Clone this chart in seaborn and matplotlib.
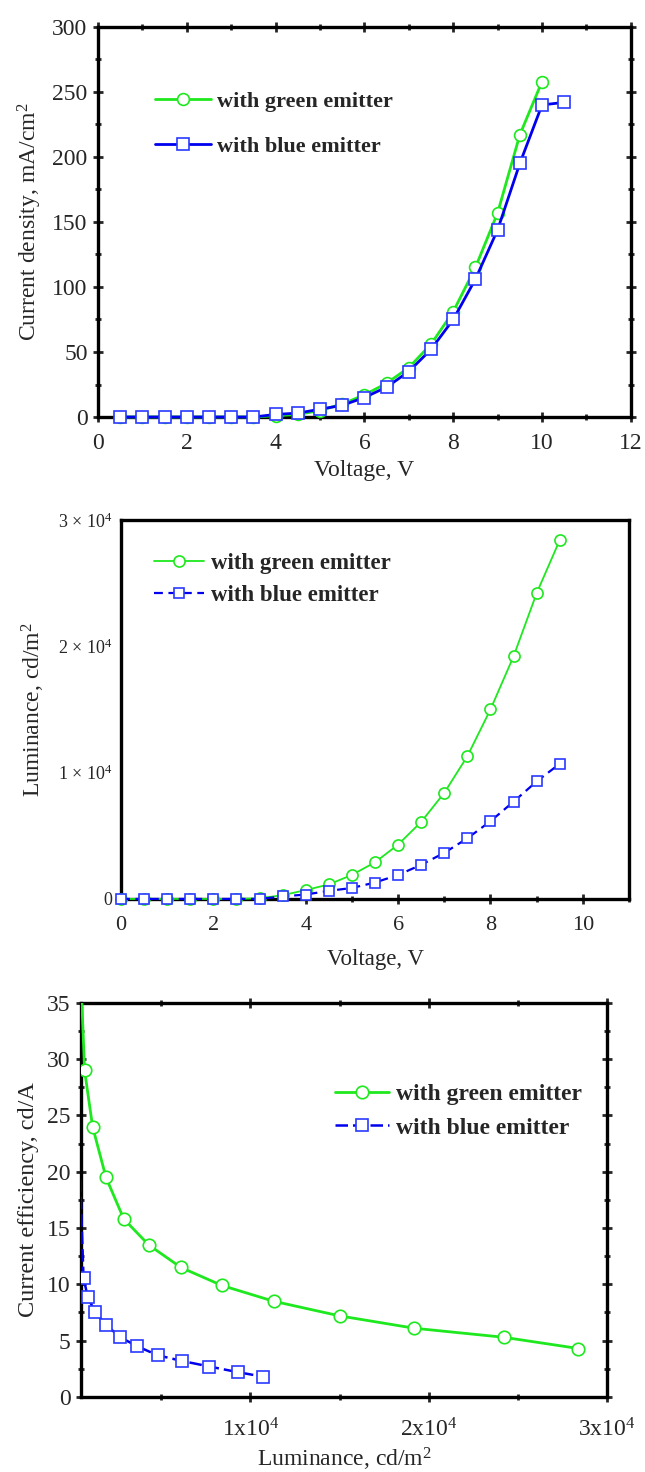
import numpy as np
import pandas as pd
import matplotlib.pyplot as plt
import matplotlib.ticker as mticker
import seaborn as sns

# Current density vs voltage
v_green_j = [0.5, 1.0, 1.5, 2.0, 2.5, 3.0, 3.5, 4.0, 4.5, 5.0, 5.5, 6.0, 6.5, 7.0, 7.5, 8.0, 8.5, 9.0, 9.5, 10.0]
j_green = [0, 0, 0, 0, 0, 0, 0, 1, 2, 5, 10, 17, 26, 38, 56, 81, 115, 157, 217, 258]
v_blue_j = [0.5, 1.0, 1.5, 2.0, 2.5, 3.0, 3.5, 4.0, 4.5, 5.0, 5.5, 6.0, 6.5, 7.0, 7.5, 8.0, 8.5, 9.0, 9.5, 10.0, 10.5]
j_blue = [0, 0, 0, 0, 0, 0, 0, 2, 3, 6, 9, 15, 23, 35, 52, 75, 106, 144, 195, 240, 242]

# Luminance vs voltage
v_lum = [0.0, 0.5, 1.0, 1.5, 2.0, 2.5, 3.0, 3.5, 4.0, 4.5, 5.0, 5.5, 6.0, 6.5, 7.0, 7.5, 8.0, 8.5, 9.0, 9.5]
lum_green = [0, 0, 0, 0, 0, 0, 50, 300, 700, 1150, 1900, 2900, 4300, 6100, 8400, 11300, 15000, 19200, 24200, 28400]
lum_blue = [0, 0, 0, 0, 0, 0, 0, 200, 350, 640, 870, 1300, 1900, 2700, 3650, 4800, 6150, 7700, 9300, 10700]

# Current efficiency vs luminance (first point of each lies left of the axis)
ce_lum_green = [300, 700, 1150, 1900, 2900, 4300, 6100, 8400, 11300, 15000, 19200, 24200, 28400]
ce_green = [45, 29.0, 24.0, 19.5, 15.8, 13.5, 11.5, 9.9, 8.5, 7.2, 6.1, 5.3, 4.3]
ce_lum_blue = [350, 640, 870, 1300, 1900, 2700, 3650, 4800, 6150, 7700, 9300, 10700]
ce_blue = [24, 10.6, 8.9, 7.5, 6.4, 5.3, 4.5, 3.7, 3.2, 2.7, 2.2, 1.8]

labels = ['with green emitter', 'with blue emitter']
green = '#1ee81e'
blue_line = '#0000ee'
blue_mk = '#2a3aff'

sns.set_style('ticks')
plt.rcParams['font.family'] = ['Liberation Serif', 'DejaVu Serif']
plt.rcParams['mathtext.fontset'] = 'custom'
plt.rcParams['mathtext.rm'] = 'Liberation Serif'
plt.rcParams['mathtext.it'] = 'Liberation Serif:italic'
plt.rcParams['mathtext.bf'] = 'Liberation Serif:bold'

fig = plt.figure(figsize=(6.45, 14.72), dpi=100)


def style_spines(ax):
    for s in ax.spines.values():
        s.set_linewidth(2.4)
        s.set_color('black')


def draw(ax, x, y, label, color, mcolor, marker, ms, lw, ls, clip, markevery=None):
    sns.lineplot(x=x, y=y, ax=ax, label=label, errorbar=None, color=color,
                 lw=lw, linestyle=ls, marker=marker, markersize=ms,
                 markerfacecolor='white', markeredgecolor=mcolor,
                 markeredgewidth=1.2, clip_on=clip, zorder=3, markevery=markevery)


def add_legend(ax, anchor, size, hlen, spacing):
    ax.legend(loc='upper left', bbox_to_anchor=anchor, frameon=False,
              prop={'weight': 'bold', 'size': size}, borderpad=0, borderaxespad=0,
              handlelength=hlen, handletextpad=0.3, labelspacing=spacing)


# ---- panel 1 ----
ax1 = fig.add_axes([0.152, 0.7167, 0.826, 0.265])
draw(ax1, v_green_j, j_green, labels[0], green, green, 'o', 8.5, 2.0, '-', False)
draw(ax1, v_blue_j, j_blue, labels[1], blue_line, blue_mk, 's', 8, 2.0, '-', False)
ax1.set_xlim(0, 12)
ax1.set_ylim(0, 300)
ax1.xaxis.set_major_locator(mticker.MultipleLocator(2))
ax1.xaxis.set_minor_locator(mticker.MultipleLocator(1))
ax1.yaxis.set_major_locator(mticker.MultipleLocator(50))
ax1.yaxis.set_minor_locator(mticker.MultipleLocator(25))
ax1.tick_params(which='both', top=True, right=True, width=2, labelsize=17)
ax1.tick_params(axis='x', which='both', direction='inout', pad=8)
ax1.tick_params(axis='y', which='both', direction='inout', pad=4)
ax1.tick_params(which='major', length=7)
ax1.tick_params(which='minor', length=4)
ax1.set_xlabel('Voltage, V', fontsize=17, labelpad=4)
ax1.set_ylabel('Current density, mA/cm$^2$', fontsize=17, labelpad=6)
style_spines(ax1)
add_legend(ax1, (0.107, 0.835), 16, 2.5, 1.1)

# ---- panel 2 ----
ax2 = fig.add_axes([0.1876, 0.3893, 0.7876, 0.2575])
draw(ax2, v_lum, lum_green, labels[0], green, green, 'o', 8, 1.3, '-', False)
draw(ax2, v_lum, lum_blue, labels[1], blue_line, blue_mk, 's', 7.5, 1.6, (0, (4, 2.5)), False)
ax2.set_xlim(0, 11)
ax2.set_ylim(0, 30000)
ax2.xaxis.set_major_locator(mticker.MultipleLocator(2))
ax2.xaxis.set_minor_locator(mticker.MultipleLocator(1))
ax2.set_yticks([0, 10000, 20000, 30000])
ax2.set_yticklabels(['0', '1 × 10$^4$', '2 × 10$^4$', '3 × 10$^4$'])
ax2.tick_params(axis='x', which='both', direction='inout', width=2, labelsize=16, pad=9)
ax2.tick_params(axis='x', which='major', length=7)
ax2.tick_params(axis='x', which='minor', length=4)
ax2.tick_params(axis='y', length=0, labelsize=13, pad=6)
ax2.set_xlabel('Voltage, V', fontsize=16.5, labelpad=10)
ax2.set_ylabel('Luminance, cd/m$^2$', fontsize=17, labelpad=8)
style_spines(ax2)
add_legend(ax2, (0.065, 0.912), 16.5, 2.2, 0.45)

# ---- panel 3 ----
ax3 = fig.add_axes([0.1256, 0.0510, 0.8155, 0.2677])
draw(ax3, ce_lum_green, ce_green, labels[0], green, green, 'o', 9, 2.0, '-', True,
     markevery=list(range(1, len(ce_green))))
draw(ax3, ce_lum_blue, ce_blue, labels[1], blue_line, blue_mk, 's', 8, 1.8, (0, (5, 2)), True,
     markevery=list(range(1, len(ce_blue))))
ax3.set_xlim(500, 30000)
ax3.set_ylim(0, 35)
ax3.set_xticks([10000, 20000, 30000])
ax3.set_xticklabels(['1x10$^4$', '2x10$^4$', '3x10$^4$'])
ax3.xaxis.set_minor_locator(mticker.MultipleLocator(5000))
ax3.yaxis.set_major_locator(mticker.MultipleLocator(5))
ax3.yaxis.set_minor_locator(mticker.MultipleLocator(2.5))
ax3.tick_params(which='both', top=True, right=True, width=2, labelsize=17)
ax3.tick_params(axis='x', which='both', direction='inout', pad=12)
ax3.tick_params(axis='y', which='both', direction='inout', pad=4)
ax3.tick_params(which='major', length=7)
ax3.tick_params(which='minor', length=4)
ax3.set_xlabel('Luminance, cd/m$^2$', fontsize=17, labelpad=3)
ax3.set_ylabel('Current efficiency, cd/A', fontsize=17.5, labelpad=6)
style_spines(ax3)
add_legend(ax3, (0.483, 0.795), 17, 2.3, 0.5)

fig.savefig('out.png', dpi=100)
